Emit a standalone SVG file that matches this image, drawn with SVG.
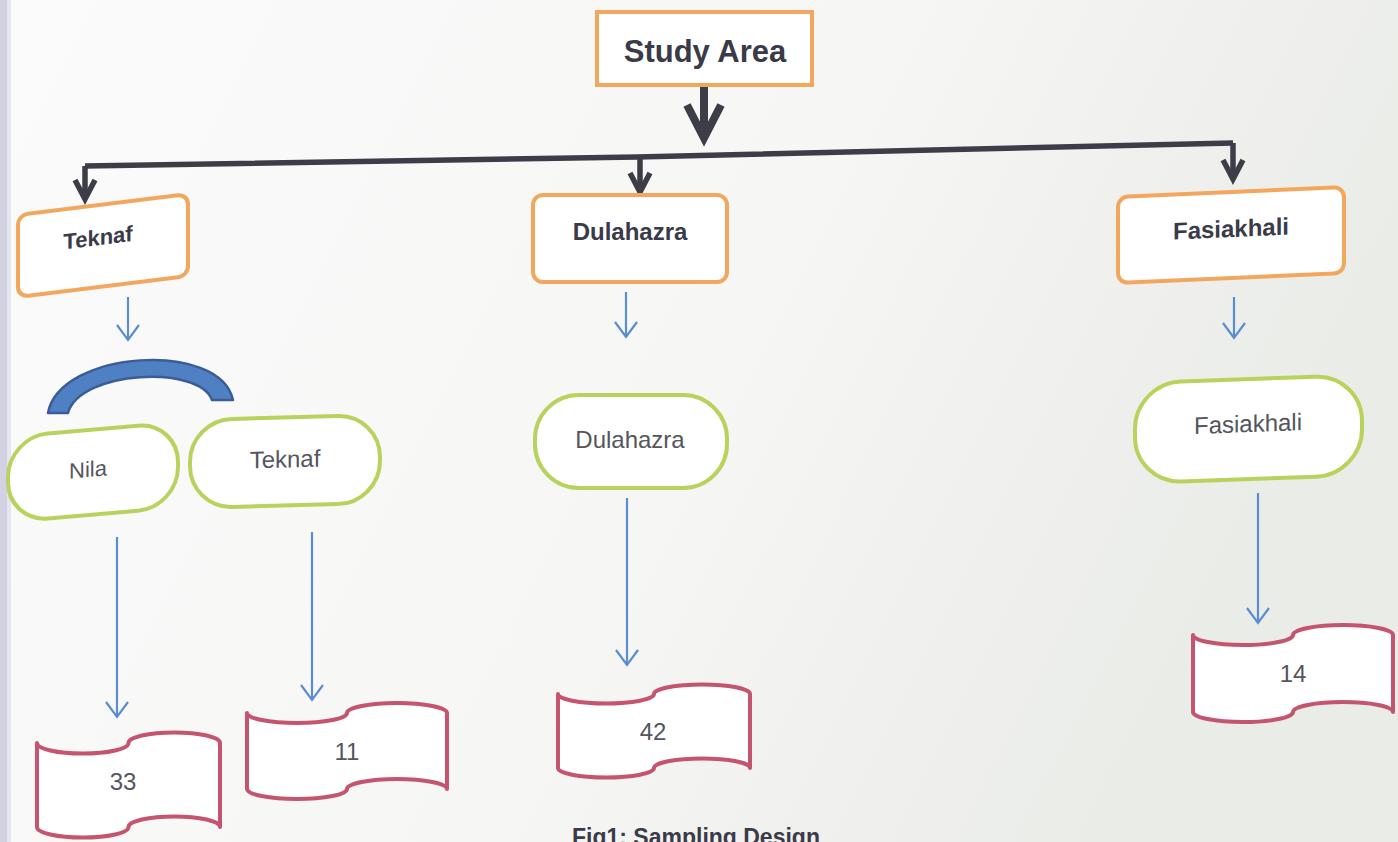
<svg xmlns="http://www.w3.org/2000/svg" width="1398" height="842" viewBox="0 0 1398 842">
<defs>
<linearGradient id="bg" x1="0" y1="0" x2="1" y2="0.3">
<stop offset="0" stop-color="#fbfbfb"/>
<stop offset="0.6" stop-color="#f6f6f5"/>
<stop offset="1" stop-color="#eaece8"/>
</linearGradient>
<marker id="bigHead" markerUnits="userSpaceOnUse" orient="auto" refX="0" refY="0" markerWidth="10" markerHeight="10" overflow="visible">
<path d="M-33,-17 L0,0 L-33,17" fill="none" stroke="#3d3d48" stroke-width="8" stroke-linejoin="miter"/>
</marker>
<marker id="darkHead" markerUnits="userSpaceOnUse" orient="auto" refX="0" refY="0" markerWidth="10" markerHeight="10" overflow="visible">
<path d="M-19,-10 L0,0 L-19,10" fill="none" stroke="#3d3d48" stroke-width="5.5" stroke-linejoin="miter"/>
</marker>
<marker id="blueHead" markerUnits="userSpaceOnUse" orient="auto" refX="0" refY="0" markerWidth="10" markerHeight="10" overflow="visible">
<path d="M-15,-11 L0,0 L-15,11" fill="none" stroke="#5b8dd0" stroke-width="2.2"/>
</marker>
</defs>
<style>
.orange{fill:#ffffff;stroke:#f2a75e;stroke-width:4}
.green{fill:#ffffff;stroke:#b8d25e;stroke-width:4}
.tape{fill:#ffffff;stroke:#c5546e;stroke-width:4;stroke-linejoin:round}
.bold{font-family:"Liberation Sans",Arial,sans-serif;font-weight:bold;fill:#3a3a48;text-anchor:middle}
.reg{font-family:"Liberation Sans",Arial,sans-serif;fill:#55555e;text-anchor:middle}
.dark{fill:none;stroke:#3d3d48;stroke-width:5.5}
.blue{fill:none;stroke:#5b8dd0;stroke-width:2.2;marker-end:url(#blueHead)}
</style>
<rect x="0" y="0" width="1398" height="842" fill="url(#bg)"/>
<rect x="0" y="0" width="7" height="842" fill="#d2d2e2"/>
<rect x="7" y="0" width="4" height="842" fill="#e6e6f0"/>

<g id="connectors">
<path d="M704,86 V138" fill="none" stroke="#3d3d48" stroke-width="8" marker-end="url(#bigHead)"/>
<path class="dark" d="M85,166 L637,157 L1233,143"/>
<path class="dark" d="M85,166 V199" marker-end="url(#darkHead)"/>
<path class="dark" d="M640,157 V192" marker-end="url(#darkHead)"/>
<path class="dark" d="M1233,143 V179" marker-end="url(#darkHead)"/>
<path class="blue" d="M128,297 V340"/>
<path class="blue" d="M626,292 V337"/>
<path class="blue" d="M1234,297 V338"/>
<path class="blue" d="M117,537 V717"/>
<path class="blue" d="M312,532 V700"/>
<path class="blue" d="M627,498 V665"/>
<path class="blue" d="M1258,493 V623"/>
</g>

<g id="study-area">
<rect x="597" y="12" width="215" height="73" fill="#ffffff" stroke="#f2a75e" stroke-width="4"/>
<text class="bold" x="705" y="62" font-size="31">Study Area</text>
</g>

<g id="teknaf-district" transform="translate(18,215) skewY(-7)">
<rect class="orange" x="0" y="0" width="170" height="82" rx="10"/>
<text class="bold" x="80" y="40" font-size="22">Teknaf</text>
</g>

<g id="dulahazra-district">
<rect class="orange" x="533" y="195" width="194" height="87" rx="10"/>
<text class="bold" x="630" y="240" font-size="24">Dulahazra</text>
</g>

<g id="fasiakhali-district" transform="translate(1118,197) skewY(-2.5)">
<rect class="orange" x="0" y="0" width="226" height="86" rx="10"/>
<text class="bold" x="113" y="45" font-size="24">Fasiakhali</text>
</g>

<g id="bracket">
<path d="M48,413 C60,350 220,340 233,400 L212,400 C200,365 80,370 68,413 Z" fill="#4f80c4" stroke="#3b5c94" stroke-width="2.5" stroke-linejoin="round"/>
</g>

<g id="nila" transform="translate(8,437) skewY(-5)">
<rect class="green" x="0" y="0" width="170" height="85" rx="40"/>
<text class="reg" x="80" y="47" font-size="22">Nila</text>
</g>

<g id="teknaf-site" transform="translate(190,420) skewY(-1.5)">
<rect class="green" x="0" y="0" width="190" height="88" rx="42"/>
<text class="reg" x="95" y="50" font-size="24">Teknaf</text>
</g>

<g id="dulahazra-site">
<rect class="green" x="535" y="395" width="192" height="93" rx="44"/>
<text class="reg" x="630" y="448" font-size="24">Dulahazra</text>
</g>

<g id="fasiakhali-site" transform="translate(1135,383) skewY(-2)">
<rect class="green" x="0" y="0" width="227" height="100" rx="46"/>
<text class="reg" x="113" y="53" font-size="24">Fasiakhali</text>
</g>

<g id="n33">
<path class="tape" d="M37,743 A45.75,10.6 0 0 0 128.5,743 A45.75,10.6 0 0 1 220,743 L220,827 A45.75,10.6 0 0 0 128.5,827 A45.75,10.6 0 0 1 37,827 Z"/>
<text class="reg" x="123" y="790" font-size="24">33</text>
</g>

<g id="n11">
<path class="tape" d="M247,713 A50,10 0 0 0 347,713 A50,10 0 0 1 447,713 L447,789 A50,10 0 0 0 347,789 A50,10 0 0 1 247,789 Z"/>
<text class="reg" x="347" y="760" font-size="24">11</text>
</g>

<g id="n42">
<path class="tape" d="M558,694 A48,9.5 0 0 0 654,694 A48,9.5 0 0 1 750,694 L750,768 A48,9.5 0 0 0 654,768 A48,9.5 0 0 1 558,768 Z"/>
<text class="reg" x="653" y="740" font-size="24">42</text>
</g>

<g id="n14">
<path class="tape" d="M1193,635 A50,10 0 0 0 1293,635 A50,10 0 0 1 1393,635 L1393,712 A50,10 0 0 0 1293,712 A50,10 0 0 1 1193,712 Z"/>
<text class="reg" x="1293" y="682" font-size="24" fill="#3e3e46">14</text>
</g>

<g id="caption">
<text class="bold" x="696" y="845" font-size="23">Fig1: Sampling Design</text>
</g>
</svg>
